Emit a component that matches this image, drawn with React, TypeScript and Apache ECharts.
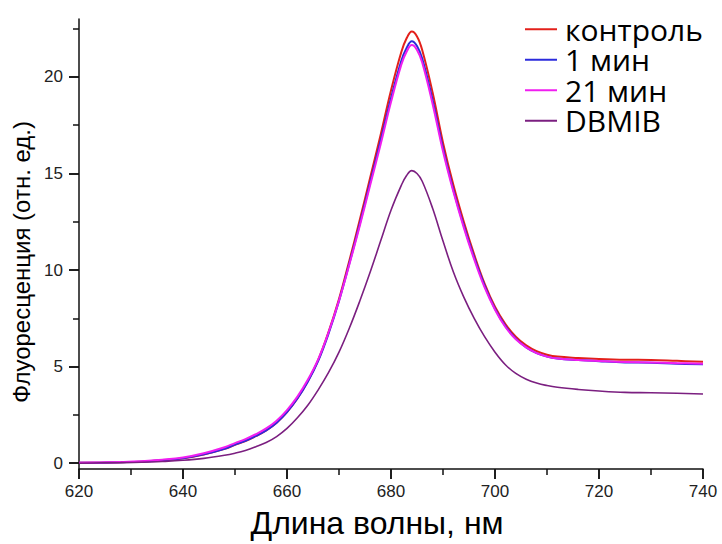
import React, { useEffect, useRef } from "react";
import * as echarts from "echarts";

const wavelengths = [620, 624, 628, 632, 636, 640, 644, 648, 650, 652, 654, 656, 658, 660, 662, 664, 666, 668, 670, 672, 674, 676, 678, 680, 682, 683, 684, 685, 686, 688, 690, 692, 694, 696, 698, 700, 702, 704, 706, 708, 710, 712, 716, 720, 725, 730, 735, 740];

const control = [0.02, 0.03, 0.05, 0.08, 0.15, 0.25, 0.45, 0.74, 0.95, 1.15, 1.4, 1.7, 2.1, 2.65, 3.35, 4.25, 5.35, 6.8, 8.5, 10.5, 12.6, 14.8, 17.0, 19.3, 21.3, 22.0, 22.35, 22.1, 21.4, 19.2, 16.6, 14.4, 12.5, 10.8, 9.3, 8.1, 7.2, 6.55, 6.1, 5.8, 5.62, 5.52, 5.45, 5.4, 5.36, 5.35, 5.3, 5.25];
const min1 = [0.02, 0.03, 0.05, 0.08, 0.15, 0.26, 0.46, 0.75, 0.96, 1.16, 1.41, 1.7, 2.1, 2.65, 3.35, 4.22, 5.3, 6.72, 8.4, 10.35, 12.4, 14.55, 16.7, 18.9, 20.85, 21.5, 21.85, 21.6, 20.95, 18.8, 16.3, 14.15, 12.3, 10.65, 9.2, 8.0, 7.1, 6.45, 6.0, 5.7, 5.52, 5.42, 5.34, 5.28, 5.22, 5.2, 5.15, 5.12];
const min21 = [0.02, 0.04, 0.06, 0.1, 0.18, 0.3, 0.52, 0.83, 1.04, 1.25, 1.5, 1.8, 2.2, 2.75, 3.45, 4.32, 5.38, 6.78, 8.42, 10.3, 12.3, 14.4, 16.5, 18.7, 20.65, 21.3, 21.65, 21.4, 20.75, 18.6, 16.15, 14.05, 12.2, 10.55, 9.1, 7.95, 7.05, 6.42, 6.0, 5.7, 5.52, 5.42, 5.34, 5.29, 5.24, 5.22, 5.18, 5.15];
const dbmib = [0.0, 0.02, 0.03, 0.05, 0.09, 0.15, 0.25, 0.41, 0.52, 0.66, 0.85, 1.07, 1.38, 1.8, 2.35, 3.0, 3.8, 4.7, 5.75, 7.0, 8.4, 9.9, 11.5, 13.1, 14.4, 14.9, 15.15, 15.0, 14.6, 13.2, 11.5, 9.9, 8.6, 7.5, 6.55, 5.75, 5.1, 4.65, 4.35, 4.15, 4.02, 3.93, 3.82, 3.74, 3.67, 3.65, 3.62, 3.58];

const seriesNames = ["контроль", "1 мин", "21 мин", "DBMIB"];
const seriesColors = ["#e3201b", "#2b2bdc", "#f01ef0", "#7b1f80"];
const xMajorTicks = [620, 640, 660, 680, 700, 720, 740];
const xMinorTicks = [630, 650, 670, 690, 710, 730];
const yMajorTicks = [0, 5, 10, 15, 20];
const yMinorTicks = [2.5, 7.5, 12.5, 17.5, 22.5];

export default function App() {
  const ref = useRef<HTMLDivElement>(null);
  useEffect(() => {
    if (!ref.current) return;
    const chart = echarts.init(ref.current, null, { renderer: "svg" });
    const allData = [control, min1, min21, dbmib];
    const font = "'Liberation Sans', Arial, sans-serif";
    const tickStyle = { color: "#111", width: 1.5 };
    const yBase = { type: "value", position: "left", min: -0.3, max: 23.0, splitLine: { show: false } };
    const xBase = { type: "value", position: "bottom", min: 620, max: 740, interval: 20, splitLine: { show: false } };
    const xTickAxis = (values: number[], length: number) => ({
      ...xBase,
      axisLine: { show: false, onZero: false },
      axisTick: { show: true, length, customValues: values, lineStyle: tickStyle },
      axisLabel: { show: false },
    });
    const yTickAxis = (values: number[], length: number) => ({
      ...yBase,
      axisLine: { show: false, onZero: false },
      axisTick: { show: true, length, customValues: values, lineStyle: tickStyle },
      axisLabel: { show: false },
    });
    chart.setOption({
      animation: false,
      backgroundColor: "#ffffff",
      grid: { left: 79, right: 19, top: 19, bottom: 66, containLabel: false },
      legend: {
        data: seriesNames,
        orient: "vertical",
        left: 525,
        top: 14,
        icon: "rect",
        itemWidth: 32,
        itemHeight: 2,
        itemGap: 0,
        padding: 0,
        textStyle: { fontSize: 30, lineHeight: 30.5, color: "#000", fontFamily: "'Open Sans', sans-serif", padding: [0, 0, 0, 3] },
      },
      xAxis: [
        {
          ...xBase,
          axisLine: { show: true, onZero: false, lineStyle: { color: "#111", width: 1.5 } },
          axisTick: { show: false },
          axisLabel: { fontSize: 17, color: "#222", margin: 14, fontFamily: font },
          name: "Длина волны, нм",
          nameLocation: "middle",
          nameGap: 38,
          nameTextStyle: { fontSize: 32, color: "#000", fontFamily: font, padding: [0, 28, 0, 0] },
        },
        xTickAxis(xMajorTicks, 10),
        xTickAxis(xMajorTicks, 10),
        xTickAxis(xMinorTicks, 6),
      ],
      yAxis: [
        {
          ...yBase,
          axisLine: { show: true, onZero: false, lineStyle: { color: "#111", width: 1.5 } },
          axisTick: { show: false },
          axisLabel: { fontSize: 17, color: "#222", margin: 16, customValues: yMajorTicks, fontFamily: font },
          name: "Флуоресценция (отн. ед.)",
          nameLocation: "middle",
          nameRotate: 90,
          nameGap: 40,
          nameTextStyle: { fontSize: 24, color: "#000", fontFamily: font, padding: [0, 36, 0, 0] },
        },
        yTickAxis(yMajorTicks, 10),
        yTickAxis(yMajorTicks, 10),
        yTickAxis(yMinorTicks, 6),
      ],
      series: seriesNames.map((name, i) => ({
        name,
        type: "line",
        xAxisIndex: 0,
        yAxisIndex: 0,
        smooth: 0.4,
        showSymbol: false,
        color: seriesColors[i],
        lineStyle: { width: i === 3 ? 1.6 : 2, color: seriesColors[i] },
        data: wavelengths.map((w, k) => [w, allData[i][k]]),
        z: 2 + i,
      })),
    });
    return () => chart.dispose();
  }, []);
  return <div ref={ref} style={{ position: "fixed", left: 0, top: 0, width: 722, height: 544 }} />;
}
